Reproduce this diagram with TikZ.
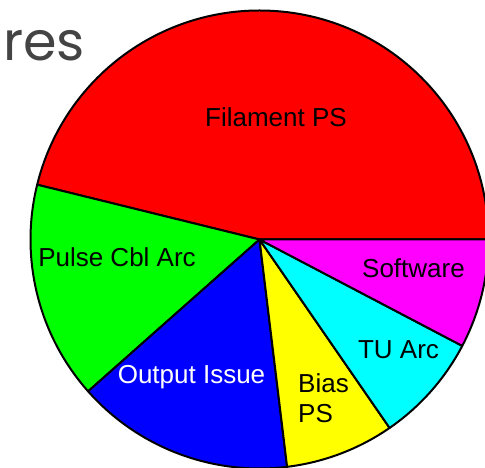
\documentclass[tikz,border=0pt]{standalone}
\usepackage{fontspec}
\usepackage{xcolor}
\setmainfont{Liberation Sans}
\newfontfamily\headfont{Poppins}
\definecolor{headgray}{HTML}{444444}
\definecolor{slicecyan}{HTML}{00FFFF}
\definecolor{slicemagenta}{HTML}{FF00FF}
\definecolor{slicered}{HTML}{FF0000}
\definecolor{slicegreen}{HTML}{00FF00}
\definecolor{sliceblue}{HTML}{0000FF}
\definecolor{sliceyellow}{HTML}{FFFF00}
\tikzstyle{slice} = [draw=black, line width=2pt, line join=round]
\tikzstyle{slicetext} = [font=\fontsize{26}{30}\selectfont, inner sep=0pt, text=black]
\tikzstyle{headtext} = [font=\headfont\fontsize{54}{60}\selectfont, inner sep=0pt, text=headgray]

\begin{document}
\begin{tikzpicture}[x=1pt, y=1pt]
        \useasboundingbox (0,0) rectangle (485,468);
        \clip (0,0) rectangle (485,468);

        \coordinate (c) at (259.5,228.5);

        % Slices
        \draw[slice, fill=slicered] (c) -- ++(0:229) arc[start angle=0, end angle=166.15, radius=229] -- cycle;
        \draw[slice, fill=slicegreen] (c) -- ++(166.15:229) arc[start angle=166.15, end angle=221.54, radius=229] -- cycle;
        \draw[slice, fill=sliceblue] (c) -- ++(221.54:229) arc[start angle=221.54, end angle=276.92, radius=229] -- cycle;
        \draw[slice, fill=sliceyellow] (c) -- ++(276.92:229) arc[start angle=276.92, end angle=304.62, radius=229] -- cycle;
        \draw[slice, fill=slicecyan] (c) -- ++(304.62:229) arc[start angle=304.62, end angle=332.31, radius=229] -- cycle;
        \draw[slice, fill=slicemagenta] (c) -- ++(332.31:229) arc[start angle=332.31, end angle=360, radius=229] -- cycle;

        % Text Labels
        \node[slicetext] (filament) at (276,351) {Filament PS};
        \node[slicetext] (pulse) at (117,211) {Pulse Cbl Arc};
        \node[slicetext, text=white] (output) at (191.5,91) {Output Issue};
        \node[slicetext, anchor=west, align=left] (bias) at (298,70) {Bias\\PS};
        \node[slicetext] (tuarc) at (398.5,118) {TU Arc};
        \node[slicetext] (software) at (413.5,200) {Software};

        % Title
        \node[headtext, anchor=base west] (title) at (3,407) {res};

    \end{tikzpicture}
\end{document}
